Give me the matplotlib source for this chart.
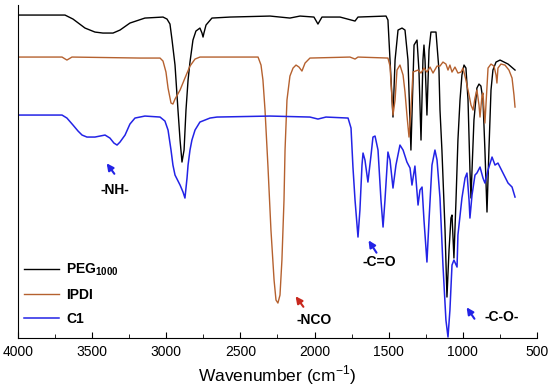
import matplotlib
matplotlib.use("Agg")
import matplotlib.pyplot as plt
from matplotlib.ticker import MultipleLocator

plt.rcParams['font.family'] = ['Liberation Sans', 'DejaVu Sans']
plt.rcParams['mathtext.fontset'] = 'custom'
plt.rcParams['mathtext.rm'] = 'Liberation Sans'
plt.rcParams['mathtext.bf'] = 'Liberation Sans:bold'

# spectra (wavenumber in cm-1, signal in arbitrary offset units)
peg_wn = [4000, 3683, 3629, 3548, 3481, 3427, 3359, 3312, 3245, 3144, 3022, 2995, 2975, 2961,
          2941, 2921, 2907, 2894, 2880, 2867, 2853, 2840, 2820, 2800, 2773, 2759, 2752, 2746,
          2732, 2692, 2570, 2300, 2166, 2098, 2004, 1977, 1950, 1828, 1727, 1707, 1518, 1505,
          1491, 1471, 1457, 1437, 1410, 1390, 1370, 1350, 1329, 1309, 1296, 1282, 1269, 1262,
          1255, 1242, 1228, 1215, 1181, 1161, 1154, 1141, 1120, 1107, 1093, 1080, 1073, 1060,
          1046, 1033, 1019, 1006, 992, 979, 965, 952, 945, 938, 925, 905, 891, 878, 864, 851,
          837, 824, 810, 797, 776, 749, 695, 648]
peg_py = [15, 15, 19, 28, 32, 33, 33, 30, 23, 18, 17, 19, 24, 40,
          65, 110, 140, 162, 150, 110, 80, 62, 40, 31, 28, 33, 37, 33,
          25, 18, 17, 16, 18, 16, 17, 24, 17, 17, 21, 17, 16, 20,
          60, 117, 60, 30, 28, 30, 60, 150, 45, 40, 70, 140, 60, 45,
          60, 115, 50, 32, 32, 70, 110, 150, 230, 297, 250, 218, 215, 258,
          200, 140, 100, 75, 65, 68, 100, 170, 198, 170, 120, 88, 84, 86, 100, 150,
          212, 150, 90, 70, 62, 60, 64, 70]

ipdi_wn = [4000, 3703, 3670, 3636, 3177, 3042, 3022, 3002, 2988, 2968, 2955, 2941, 2907, 2874,
           2840, 2806, 2773, 2381, 2361, 2348, 2334, 2314, 2294, 2273, 2260, 2247, 2233, 2220,
           2206, 2199, 2186, 2166, 2145, 2125, 2105, 2085, 2064, 2031, 1761, 1727, 1707, 1505,
           1491, 1471, 1457, 1444, 1424, 1403, 1390, 1377, 1363, 1350, 1336, 1302, 1282, 1262,
           1242, 1221, 1201, 1174, 1154, 1134, 1114, 1100, 1087, 1073, 1053, 1033, 1012, 999,
           979, 958, 945, 931, 918, 905, 891, 884, 871, 864, 857, 851, 844, 830, 810, 790,
           776, 770, 763, 743, 716, 689, 668, 655, 648]
ipdi_py = [57, 57, 60, 57, 58, 58, 61, 72, 88, 103, 104, 99, 90, 78,
           66, 59, 57, 57, 65, 80, 110, 167, 230, 280, 300, 303, 295, 260,
           200, 150, 100, 76, 68, 65, 67, 71, 63, 58, 57, 59, 57, 58,
           66, 115, 100, 70, 65, 75, 92, 115, 137, 110, 72, 70, 73, 68,
           72, 67, 73, 66, 66, 62, 64, 70, 65, 72, 67, 73, 72, 68,
           80, 95, 105, 110, 98, 90, 105, 117, 96, 93, 110, 123, 105, 68, 64, 66,
           75, 83, 68, 64, 65, 70, 78, 95, 107]

c1_wn = [4000, 3703, 3670, 3629, 3595, 3568, 3535, 3481, 3447, 3413, 3380, 3353, 3332, 3312,
         3278, 3245, 3211, 3144, 3042, 3009, 2988, 2968, 2955, 2941, 2907, 2887, 2874, 2860,
         2853, 2840, 2827, 2806, 2773, 2705, 2658, 2300, 2031, 1977, 1923, 1774, 1754, 1741,
         1727, 1707, 1694, 1680, 1673, 1660, 1640, 1619, 1606, 1592, 1572, 1552, 1538, 1525,
         1505, 1491, 1471, 1451, 1424, 1403, 1377, 1356, 1343, 1323, 1302, 1289, 1275, 1262,
         1242, 1228, 1208, 1188, 1174, 1154, 1134, 1114, 1100, 1087, 1073, 1060, 1039, 1033,
         1006, 985, 972, 958, 952, 938, 918, 905, 884, 864, 851, 830, 803, 783, 763, 729,
         695, 668, 648]
c1_py = [115, 115, 118, 125, 131, 135, 137, 137, 136, 135, 138, 143, 145, 142,
         135, 124, 118, 116, 117, 121, 130, 150, 165, 175, 185, 192, 198, 178,
         165, 150, 140, 130, 122, 118, 117, 116, 117, 119, 117, 118, 128, 167,
         200, 237, 210, 165, 153, 160, 182, 155, 137, 136, 150, 200, 227, 200,
         152, 160, 188, 165, 145, 150, 162, 168, 185, 166, 205, 190, 187, 220,
         262, 220, 165, 150, 160, 198, 265, 320, 337, 310, 265, 260, 267, 235,
         198, 178, 173, 200, 218, 195, 175, 173, 167, 178, 183, 170, 157, 165, 163, 173,
         183, 187, 197]

base = 338
peg_t = [base - v for v in peg_py]
ipdi_t = [base - v for v in ipdi_py]
c1_t = [base - v for v in c1_py]

fig = plt.figure(figsize=(5.5, 3.89), dpi=100)
ax = fig.add_axes([0.0327, 0.131, 0.9436, 0.856])

ax.plot(peg_wn, peg_t, color='black', lw=1.0, label=r'PEG$_{\mathbf{1000}}$')
ax.plot(ipdi_wn, ipdi_t, color='#B5612F', lw=1.0, label='IPDI')
ax.plot(c1_wn, c1_t, color='#2323E6', lw=1.1, label='C1')

ax.set_xlim(4000, 500)
ax.set_ylim(0, 333)
ax.xaxis.set_major_locator(MultipleLocator(500))
ax.xaxis.set_minor_locator(MultipleLocator(250))
ax.tick_params(axis='x', which='major', direction='in', length=4, labelsize=10, pad=5)
ax.tick_params(axis='x', which='minor', direction='in', length=3)
ax.set_yticks([])
ax.spines['top'].set_visible(False)
ax.spines['right'].set_visible(False)
ax.set_xlabel('Wavenumber (cm$^{-1}$)', fontsize=12.5, labelpad=3)

# peak labels and arrows
notes = [('-NH-', 3346, 148, (3339, 162), (3413, 177), '#2323E6'),
         ('-NCO', 2004, 18, (2064, 29), (2139, 44), '#C8281E'),
         ('-C=O', 1565, 76, (1572, 83), (1646, 100), '#2323E6'),
         ('-C-O-', 736, 21, (911, 17), (985, 33), '#2323E6')]
for txt, tx, ty, tail, head, col in notes:
    ax.text(tx, ty, txt, fontsize=10, fontweight='bold', ha='center', va='center')
    ax.annotate('', xy=head, xytext=tail,
                arrowprops=dict(arrowstyle='-|>', color=col, lw=1.5, mutation_scale=10))

leg = ax.legend(loc='lower left', bbox_to_anchor=(-0.012, 0.0), frameon=False,
                handlelength=2.5, labelspacing=0.7, handletextpad=0.5,
                prop={'weight': 'bold', 'size': 10})

fig.savefig('out.png', dpi=100)
